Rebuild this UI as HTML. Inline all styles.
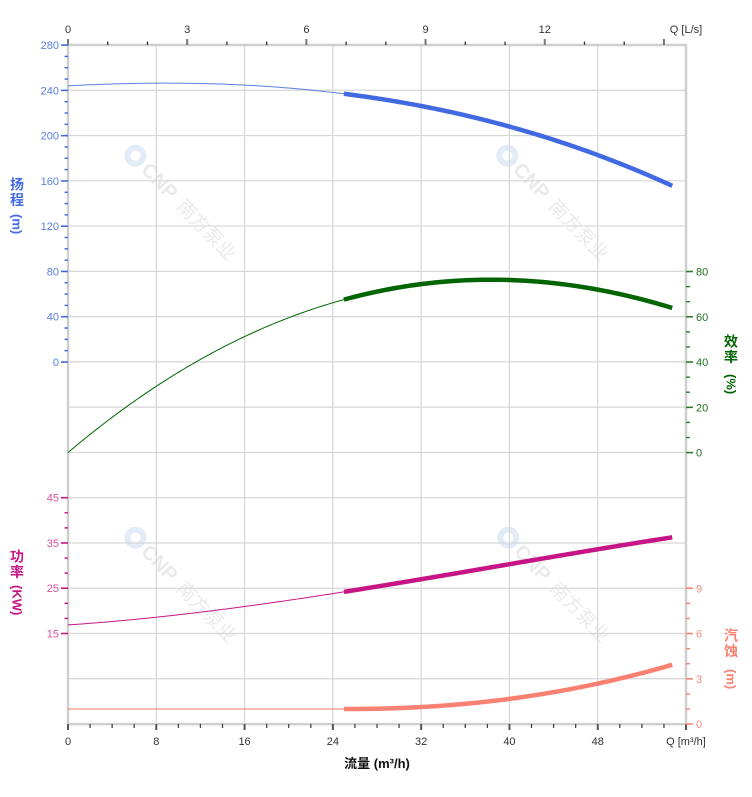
<!DOCTYPE html>
<html><head><meta charset="utf-8">
<style>
html,body{margin:0;padding:0;background:#fff;}
svg{display:block;font-family:"Liberation Sans","Noto Sans CJK SC",sans-serif;}
.vl{writing-mode:vertical-rl;font-weight:bold;font-size:14px;letter-spacing:1.5px;}
.vp{writing-mode:vertical-rl;font-weight:bold;font-size:13px;}
</style></head>
<body>
<svg id="c" width="752" height="797" viewBox="0 0 752 797" xmlns="http://www.w3.org/2000/svg">
<rect width="752" height="797" fill="#fff"/>
<g id="wm" font-family="Liberation Sans,Noto Sans CJK SC,sans-serif"></g>
<g id="grid"></g>
<g id="ticks"></g>
<g id="curves"></g>
<g id="labels" font-size="11"></g>
<text x="377" y="768" text-anchor="middle" font-size="13" font-weight="bold" fill="#111" font-family="Liberation Sans,Noto Sans CJK SC,sans-serif">流量 (m³/h)</text>
<text x="686" y="33" text-anchor="middle" font-size="11" fill="#333">Q [L/s]</text>
<text x="686" y="745" text-anchor="middle" font-size="11" fill="#333">Q [m³/h]</text>
<text class="vl" x="17" y="177" fill="#4169E1">扬程</text>
<text class="vp" x="17" y="214" fill="#4169E1">(m)</text>
<text class="vl" x="17" y="549" fill="#C71585">功率</text>
<text class="vp" x="17" y="585" fill="#C71585">(KW)</text>
<text class="vl" x="731" y="334" fill="#006400">效率</text>
<text class="vp" x="731" y="374" fill="#006400">(%)</text>
<text class="vl" x="731" y="628" fill="#FA8072">汽蚀</text>
<text class="vp" x="731" y="669" fill="#FA8072">(m)</text>
</svg>
<script>
(function(){
var NS="http://www.w3.org/2000/svg";
function el(parent,tag,attrs,txt){var e=document.createElementNS(NS,tag);for(var k in attrs)e.setAttribute(k,attrs[k]);if(txt!==undefined)e.textContent=txt;document.getElementById(parent).appendChild(e);return e;}
function line(p,x1,y1,x2,y2,c,w){el(p,'line',{x1:x1,y1:y1,x2:x2,y2:y2,stroke:c,'stroke-width':w});}
var X=function(q){return 68+q*11.036;};
var G=45.27;
// watermarks
[[184,206],[556,206],[184,588],[557,588]].forEach(function(c){
  var g=el('wm','g',{transform:'translate('+c[0]+','+c[1]+') rotate(46)'});
  var ci=document.createElementNS(NS,'circle');ci.setAttribute('cx',-70);ci.setAttribute('cy',0);ci.setAttribute('r',11);ci.setAttribute('fill','#e2ebf6');g.appendChild(ci);
  var ci2=document.createElementNS(NS,'circle');ci2.setAttribute('cx',-70);ci2.setAttribute('cy',0);ci2.setAttribute('r',5);ci2.setAttribute('fill','#fff');g.appendChild(ci2);
  var t=document.createElementNS(NS,'text');t.setAttribute('x',-56);t.setAttribute('y',7);t.setAttribute('font-size',20);t.setAttribute('font-weight','bold');t.setAttribute('fill','#eaeaea');t.textContent='CNP';g.appendChild(t);
  var t2=document.createElementNS(NS,'text');t2.setAttribute('x',-5);t2.setAttribute('y',7);t2.setAttribute('font-size',19);t2.setAttribute('fill','#eaeaea');t2.textContent='南方泵业';g.appendChild(t2);
});
// horizontal grid
for(var k=1;k<15;k++){var y=45+k*G;line('grid',68,y,686,y,'#d6d6d6',1.2);}
// vertical grid
for(var q=8;q<=48;q+=8){line('grid',X(q),45,X(q),724.1,'#d6d6d6',1.2);}
// border axes
line('grid',68,45,686,45,'#cfcfcf',2.5);
line('grid',68,724.1,686,724.1,'#cfcfcf',2.5);
line('grid',68,44,68,725,'#cfcfcf',2.5);
line('grid',686,44,686,725,'#cfcfcf',2.5);
// top ticks (L/s)
for(var L=0;L<=15;L++){var x=68+L*39.73;if(L%3==0){line('ticks',x,39,x,45,'#777',2);if(L<15)el('labels','text',{x:x,y:33,'text-anchor':'middle',fill:'#333'},String(L));}else line('ticks',x,41.5,x,45,'#333',1.3);}
// bottom ticks
for(var q=0;q<=56;q+=2){var x=X(q);if(q%8==0){line('ticks',x,724,x,730,'#555',2);if(q<=48)el('labels','text',{x:x,y:745,'text-anchor':'middle',fill:'#333'},String(q));}else line('ticks',x,724,x,728,'#444',1.3);}
// head axis
for(var h=0;h<=280;h+=10){var y=362-h*1.13175;if(h%40==0){line('ticks',61,y,68,y,'#4169E1',1.6);el('labels','text',{x:59,y:y+4,'text-anchor':'end',fill:'#5a7ee6'},String(h));}else line('ticks',64.5,y,68,y,'#4169E1',1.4);}
// power axis
for(var i=0;i<=9;i++){var p=15+i*10/3;var y=497.7+(45-p)*4.527;if(i%3==0){line('ticks',61,y,68,y,'#C71585',1.6);el('labels','text',{x:59,y:y+4,'text-anchor':'end',fill:'#d4509c'},String(Math.round(p)));}else line('ticks',64.5,y,68,y,'#C71585',1.4);}
// efficiency axis
for(var i=0;i<=12;i++){var e=i*20/3;var y=452.6-e*2.2635;if(i%3==0){line('ticks',686,y,693,y,'#2e7d2e',1.6);el('labels','text',{x:696,y:y+4,fill:'#1f6f1f'},String(Math.round(e)));}else line('ticks',686,y,690,y,'#2e7d2e',1.4);}
// npsh axis
for(var n=0;n<=9;n++){var y=724.1-n*15.09;if(n%3==0){line('ticks',686,y,693,y,'#FA8072',1.6);el('labels','text',{x:696,y:y+4,fill:'#f48c80'},String(n));}else line('ticks',686,y,690,y,'#FA8072',1.4);}
// curves
function pth(f,Y,q0,q1,c,w,op){var d='';for(var q=q0;q<=q1+1e-9;q+=0.25){var qq=Math.min(q,q1);d+=(d?'L':'M')+X(qq).toFixed(2)+','+Y(f(qq)).toFixed(2);}el('curves','path',{d:d,fill:'none',stroke:c,'stroke-width':w,'stroke-opacity':op||1});}
var QE=54.9,QS=25;
var H=function(q){return 244+0.5164*q-0.02594*q*q-0.0002367*q*q*q;};
var YH=function(h){return 362-h*1.13175;};
var E=function(q){return 4.134*q-0.05977*q*q+0.000102*q*q*q;};
var YE=function(e){return 452.6-e*2.2635;};
var P=function(q){return 16.9+0.1639*q+0.006521*q*q-0.0000559*q*q*q;};
var YP=function(p){return 497.7+(45-p)*4.527;};
var N=function(q){return q<25?1.0:1+0.00199*Math.pow(q-25,2.15);};
var YN=function(n){return 724.1-n*15.09;};
pth(H,YH,0,QS,'#4169E1',1,0.85);
pth(H,YH,QS,QE,'#4169E1',4.5);
pth(E,YE,0,QS,'#006400',1);
pth(E,YE,QS,QE,'#006400',4.5);
pth(P,YP,0,QS,'#C71585',1);
pth(P,YP,QS,QE,'#C71585',4.5);
pth(N,YN,0,QS,'#FA8072',1.6,0.7);
pth(N,YN,QS,QE,'#FA8072',4.5);
})();
</script>
</body></html>
